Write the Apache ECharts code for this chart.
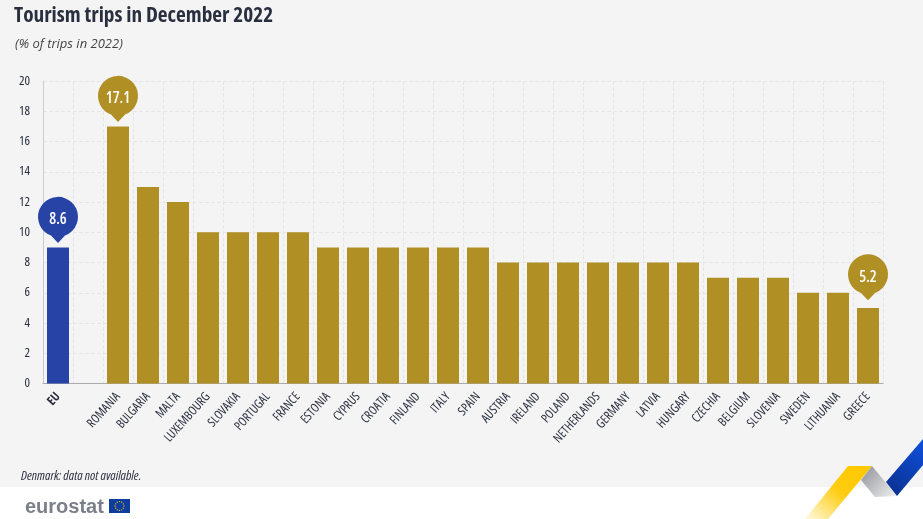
<!DOCTYPE html>
<html lang="en">
<head>
    <meta charset="UTF-8">
    <title>Tourism trips in December 2022</title>
    <script src="https://cdn.jsdelivr.net/npm/echarts@6/dist/echarts.min.js"></script>
    <style>
        html, body { margin: 0; padding: 0; background: #fff; }
        #chart1 { width: 923px; height: 519px; }
    </style>
</head>
<body>
<div id="chart1"></div>
</body>
<script type="text/javascript">
    // bars are drawn on rounded values, the pins carry the published figures
    var categories = ['EU', '', 'ROMANIA', 'BULGARIA', 'MALTA', 'LUXEMBOURG', 'SLOVAKIA', 'PORTUGAL', 'FRANCE', 'ESTONIA',
        'CYPRUS', 'CROATIA', 'FINLAND', 'ITALY', 'SPAIN', 'AUSTRIA', 'IRELAND', 'POLAND', 'NETHERLANDS', 'GERMANY',
        'LATVIA', 'HUNGARY', 'CZECHIA', 'BELGIUM', 'SLOVENIA', 'SWEDEN', 'LITHUANIA', 'GREECE'];
    var values = [9, null, 17, 13, 12, 10, 10, 10, 10, 9, 9, 9, 9, 9, 9, 8, 8, 8, 8, 8, 8, 8, 7, 7, 7, 6, 6, 5];
    var pinCategories = ['EU', 'ROMANIA', 'GREECE'];
    var pinLabels = ['8.6', '17.1', '5.2'];
    var pinHeights = [9, 17, 5.2];

    var GOLD = '#b08f25';
    var BLUE = '#2743a6';
    var SANS = '"Open Sans", sans-serif';
    var PIN = 'path://M13 38.7A20 20 0 1 1 27 38.7L20 46Z';

    var chart1 = echarts.init(document.getElementById('chart1'));

    var pins = pinCategories.map(function (name, i) {
        return {
            coord: [name, pinHeights[i]],
            itemStyle: { color: name === 'EU' ? BLUE : GOLD },
            label: { formatter: pinLabels[i] }
        };
    });

    // gold stars of the flag in the logo
    var stars = [];
    for (var s = 0; s < 12; s++) {
        stars.push({
            type: 'circle',
            shape: {
                cx: 119.5 + 4.4 * Math.cos(s * Math.PI / 6),
                cy: 506 + 4.4 * Math.sin(s * Math.PI / 6),
                r: 0.65
            },
            style: { fill: '#f5c518' }
        });
    }

    var option = {
        backgroundColor: '#fff',
        animation: false,
        textStyle: { fontFamily: SANS },
        graphic: [
            { type: 'rect', z: -10, shape: { x: 0, y: 0, width: 923, height: 487 }, style: { fill: '#f4f4f4' } },
            { type: 'text', left: 14, top: 5, style: { text: 'Tourism trips in December 2022', fill: '#2a2f3f', font: 'condensed bold 21.3px ' + SANS } },
            { type: 'text', left: 15, top: 38, style: { text: '(% of trips in 2022)', fill: '#444', font: 'italic 13px ' + SANS } },
            { type: 'text', left: 21, top: 470, style: { text: 'Denmark: data not available.', fill: '#2a2f3f', font: 'italic condensed 13px ' + SANS } },
            { type: 'text', left: 25, top: 497, style: { text: 'eurostat', fill: '#7b7f8a', font: 'bold 20px "Liberation Sans", sans-serif' } },
            { type: 'rect', shape: { x: 109, y: 499, width: 21, height: 14 }, style: { fill: '#0f3d9e' } }
        ].concat(stars).concat([
            {
                type: 'polygon',
                shape: { points: [[848, 466], [872, 466], [828, 519], [805, 519]] },
                style: { fill: new echarts.graphic.LinearGradient(0.8, 0, 0.1, 1, [
                    { offset: 0, color: '#ffc800' }, { offset: 0.45, color: '#ffcc10' }, { offset: 1, color: '#fff6cf' }
                ]) }
            },
            {
                type: 'polygon',
                shape: { points: [[872, 466], [897, 496], [875, 497], [861, 480]] },
                style: { fill: new echarts.graphic.LinearGradient(0, 0, 1, 1, [
                    { offset: 0, color: '#8e9097' }, { offset: 1, color: '#f2f2f2' }
                ]) }
            },
            {
                type: 'polygon',
                shape: { points: [[923, 439], [923, 465], [897, 496], [886, 482]] },
                style: { fill: new echarts.graphic.LinearGradient(1, 0, 0, 1, [
                    { offset: 0, color: '#0f50dc' }, { offset: 1, color: '#0a2f8c' }
                ]) }
            }
        ]),
        grid: { left: 43, right: 40, top: 81, height: 302.5 },
        xAxis: {
            type: 'category',
            data: categories.map(function (c) {
                return c === 'EU' ? { value: c, textStyle: { fontWeight: 'bold', fontStyle: 'condensed' } } : c;
            }),
            axisLine: { lineStyle: { color: '#aaa', width: 1 } },
            axisTick: { show: false },
            axisLabel: { interval: 0, rotate: 48, margin: 11, fontSize: 12.5, color: '#2a2f3f', fontFamily: SANS, fontStyle: 'condensed' },
            splitLine: { show: true, lineStyle: { color: '#e6e6e6', type: 'dashed', width: 1 } }
        },
        yAxis: {
            type: 'value',
            min: 0,
            max: 20,
            interval: 2,
            axisLine: { show: true, lineStyle: { color: '#ccc', width: 1 } },
            axisTick: { show: false },
            axisLabel: { margin: 13, fontSize: 13, color: '#2a2f3f', fontFamily: SANS, fontStyle: 'condensed' },
            splitLine: { lineStyle: { color: '#e6e6e6', type: 'dashed', width: 1 } }
        },
        series: [{
            type: 'bar',
            barWidth: 22,
            data: values.map(function (v, i) {
                return { value: v, itemStyle: { color: categories[i] === 'EU' ? BLUE : GOLD } };
            }),
            markPoint: {
                symbol: PIN,
                symbolSize: [40, 46],
                symbolOffset: [0, -27.5],
                label: {
                    show: true,
                    position: 'inside',
                    offset: [0, 0],
                    color: '#fff',
                    fontSize: 15.5,
                    fontWeight: 600,
                    fontStyle: 'condensed',
                    fontFamily: SANS
                },
                data: pins
            }
        }]
    };
    chart1.setOption(option);
</script>
</html>
